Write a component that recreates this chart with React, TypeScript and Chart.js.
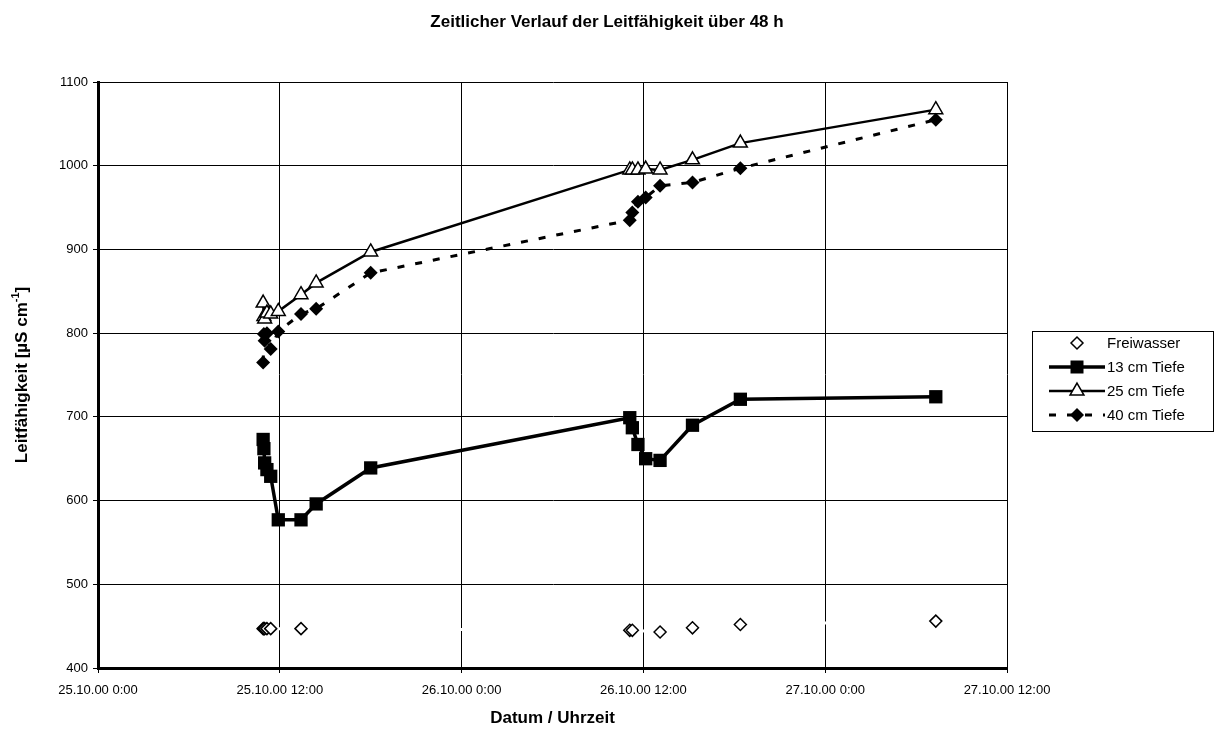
import React, { useEffect, useRef } from "react";
import { Chart, registerables } from "chart.js";

Chart.register(...registerables);

// Time of measurement in hours since 25.10.00 0:00
const hours = [10.9, 10.95, 11.0, 11.15, 11.4, 11.9, 13.4, 14.4, 18.0, 35.1, 35.27, 35.64, 36.15, 37.1, 39.24, 42.4, 55.3];
const freiwasser = [447, 447, 447, 447, 447, null, 447, null, null, 445, 445, null, null, 443, 448, 452, 456];
const tiefe13 = [673, 662, 645, 637, 629, 577, 577, 596, 639, 699, 687, 667, 650, 648, 690, 721, 724];
const tiefe25 = [836, 820, 817, 824, 823, 826, 846, 860, 897, 995, 995, 995, 996, 995, 1007, 1027, 1067];
const tiefe40 = [765, 799, 791, 800, 781, 802, 823, 829, 872, 935, 944, 957, 962, 976, 980, 997, 1055];

const seriesNames = ["Freiwasser", "13 cm Tiefe", "25 cm Tiefe", "40 cm Tiefe"];
const xTickLabels = ["25.10.00 0:00", "25.10.00 12:00", "26.10.00 0:00", "26.10.00 12:00", "27.10.00 0:00", "27.10.00 12:00"];
const titleText = "Zeitlicher Verlauf der Leitfähigkeit über 48 h";
const xTitle = "Datum / Uhrzeit";
const yTitleMain = "Leitfähigkeit [µS cm";
const yTitleSup = "-1";
const yTitleEnd = "]";

const FONT = '"Liberation Sans", Arial, sans-serif';

function toPoints(vals: (number | null)[]) {
  const out: { x: number; y: number }[] = [];
  vals.forEach((v, i) => {
    if (v !== null) out.push({ x: hours[i], y: v });
  });
  return out;
}

const DASH = [7, 11];

function drawMarker(ctx: CanvasRenderingContext2D, kind: string, x: number, y: number) {
  ctx.save();
  ctx.setLineDash([]);
  ctx.beginPath();
  if (kind === "diamondOpen") {
    const r = 6;
    ctx.moveTo(x - r, y); ctx.lineTo(x, y - r); ctx.lineTo(x + r, y); ctx.lineTo(x, y + r); ctx.closePath();
    ctx.fillStyle = "#fff"; ctx.fill();
    ctx.lineWidth = 1.5; ctx.strokeStyle = "#000"; ctx.stroke();
  } else if (kind === "square") {
    const s = 6.5;
    ctx.rect(x - s, y - s, 2 * s, 2 * s);
    ctx.fillStyle = "#000"; ctx.fill();
  } else if (kind === "triangle") {
    const r = 8;
    ctx.moveTo(x, y - r);
    ctx.lineTo(x + r * Math.sin((2 * Math.PI) / 3), y + r / 2);
    ctx.lineTo(x - r * Math.sin((2 * Math.PI) / 3), y + r / 2);
    ctx.closePath();
    ctx.fillStyle = "#fff"; ctx.fill();
    ctx.lineWidth = 1.5; ctx.strokeStyle = "#000"; ctx.stroke();
  } else if (kind === "diamond") {
    const r = 7;
    ctx.moveTo(x - r, y); ctx.lineTo(x, y - r); ctx.lineTo(x + r, y); ctx.lineTo(x, y + r); ctx.closePath();
    ctx.fillStyle = "#000"; ctx.fill();
  }
  ctx.restore();
}

const decorPlugin = {
  id: "decor",
  afterDraw(chart: any) {
    const ctx: CanvasRenderingContext2D = chart.ctx;
    const area = chart.chartArea;
    ctx.save();
    ctx.fillStyle = "#000";
    ctx.textBaseline = "middle";
    ctx.textAlign = "center";
    ctx.font = `bold 17px ${FONT}`;
    ctx.fillText(titleText, 607, 22);
    ctx.fillText(xTitle, (area.left + area.right) / 2, 718);

    // y-axis title, rotated, with superscript
    ctx.save();
    ctx.translate(22, (area.top + area.bottom) / 2);
    ctx.rotate(-Math.PI / 2);
    ctx.font = `bold 17px ${FONT}`;
    const w1 = ctx.measureText(yTitleMain).width;
    ctx.font = `bold 11px ${FONT}`;
    const w2 = ctx.measureText(yTitleSup).width;
    ctx.font = `bold 17px ${FONT}`;
    const w3 = ctx.measureText(yTitleEnd).width;
    const total = w1 + w2 + w3;
    let cx = -total / 2;
    ctx.textAlign = "left";
    ctx.fillText(yTitleMain, cx, 0);
    cx += w1;
    ctx.font = `bold 11px ${FONT}`;
    ctx.fillText(yTitleSup, cx, -6);
    cx += w2;
    ctx.font = `bold 17px ${FONT}`;
    ctx.fillText(yTitleEnd, cx, 0);
    ctx.restore();

    // legend
    const lx = 1032.5, ly = 331.5, lw = 181, lh = 100;
    ctx.fillStyle = "#fff";
    ctx.fillRect(lx, ly, lw, lh);
    ctx.lineWidth = 1;
    ctx.strokeStyle = "#000";
    ctx.strokeRect(lx, ly, lw, lh);
    const rows = [343, 367, 391, 415];
    const kinds = ["diamondOpen", "square", "triangle", "diamond"];
    const x0 = 1049, x1 = 1105, xm = 1077;
    rows.forEach((ry, i) => {
      if (i > 0) {
        ctx.save();
        ctx.beginPath();
        ctx.strokeStyle = "#000";
        ctx.lineWidth = i === 1 ? 3.5 : i === 2 ? 2.5 : 3;
        ctx.setLineDash(i === 3 ? DASH : []);
        ctx.moveTo(x0, ry);
        ctx.lineTo(x1, ry);
        ctx.stroke();
        ctx.restore();
      }
      drawMarker(ctx, kinds[i], xm, ry);
      ctx.fillStyle = "#000";
      ctx.font = `15px ${FONT}`;
      ctx.textAlign = "left";
      ctx.fillText(seriesNames[i], 1107, ry + 1);
    });
    ctx.restore();
  },
};

export default function App() {
  const ref = useRef<HTMLCanvasElement | null>(null);

  useEffect(() => {
    if (!ref.current) return;
    const chart = new Chart(ref.current, {
      type: "line",
      data: {
        datasets: [
          {
            label: seriesNames[0],
            data: toPoints(freiwasser),
            borderColor: "#fff",
            borderWidth: 3,
            pointStyle: "rectRot",
            pointRadius: 6,
            pointBackgroundColor: "#fff",
            pointBorderColor: "#000",
            pointBorderWidth: 1.5,
            order: 4,
          },
          {
            label: seriesNames[1],
            data: toPoints(tiefe13),
            borderColor: "#000",
            borderWidth: 3.5,
            pointStyle: "rect",
            pointRadius: 9.4,
            pointBackgroundColor: "#000",
            pointBorderColor: "#000",
            pointBorderWidth: 0,
            order: 3,
          },
          {
            label: seriesNames[2],
            data: toPoints(tiefe25),
            borderColor: "#000",
            borderWidth: 2.5,
            pointStyle: "triangle",
            pointRadius: 8,
            pointBackgroundColor: "#fff",
            pointBorderColor: "#000",
            pointBorderWidth: 1.5,
            order: 2,
          },
          {
            label: seriesNames[3],
            data: toPoints(tiefe40),
            borderColor: "#000",
            borderWidth: 3,
            borderDash: DASH,
            pointStyle: "rectRot",
            pointRadius: 7,
            pointBackgroundColor: "#000",
            pointBorderColor: "#000",
            pointBorderWidth: 0,
            order: 1,
          },
        ],
      },
      options: {
        responsive: false,
        animation: false,
        events: [],
        layout: { padding: { left: 0, right: 208, top: 82, bottom: 0 } },
        plugins: {
          legend: { display: false },
          title: { display: false },
          tooltip: { enabled: false },
        },
        elements: { line: { tension: 0 } },
        scales: {
          x: {
            type: "linear",
            min: 0,
            max: 60,
            afterFit: (s: any) => { s.height = 63; },
            afterBuildTicks: (s: any) => {
              s.ticks = xTickLabels.map((_, i) => ({ value: i * 12 }));
            },
            ticks: {
              autoSkip: false,
              maxRotation: 0,
              padding: 10,
              color: "#000",
              font: { family: FONT, size: 13 },
              callback: (v: any) => xTickLabels[Math.round(Number(v) / 12)] ?? "",
            },
            grid: { color: "#000", lineWidth: 1, tickLength: 5, drawTicks: true },
            border: { color: "#000", width: 3 },
          },
          y: {
            type: "linear",
            min: 400,
            max: 1100,
            afterFit: (s: any) => { s.width = 98; },
            ticks: {
              stepSize: 100,
              padding: 5,
              color: "#000",
              font: { family: FONT, size: 13 },
              callback: (v: any) => String(v),
            },
            grid: { color: "#000", lineWidth: 1, tickLength: 5, drawTicks: true },
            border: { color: "#000", width: 3 },
          },
        },
      },
      plugins: [decorPlugin],
    });
    return () => chart.destroy();
  }, []);

  return (
    <div style={{ position: "absolute", left: 0, top: 0, width: 1215, height: 731, background: "#fff" }}>
      <canvas ref={ref} width={1215} height={731} style={{ display: "block" }} />
    </div>
  );
}
